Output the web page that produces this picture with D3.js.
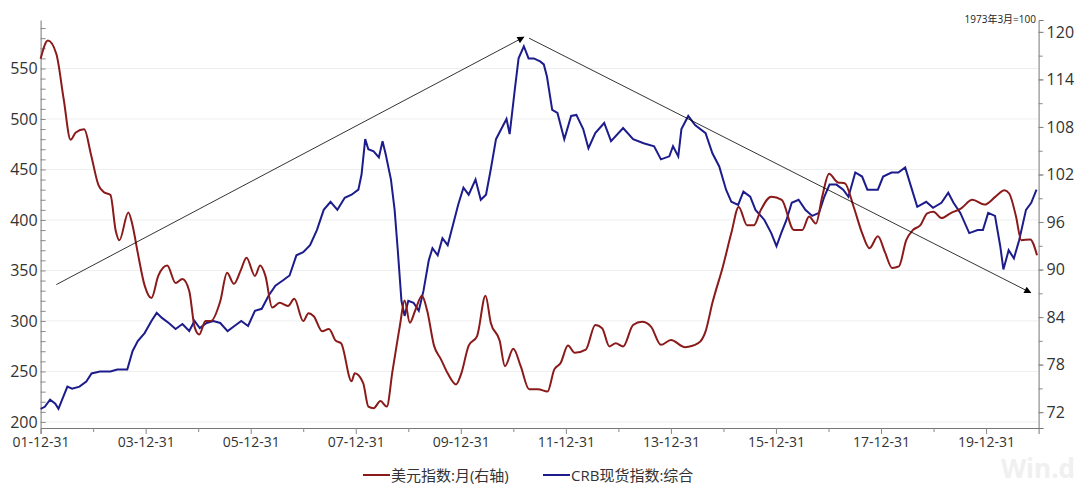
<!DOCTYPE html><html><head><meta charset="utf-8"><script src="https://cdn.jsdelivr.net/npm/d3@7"></script>
<style>body{margin:0;background:#fff}text{font-family:"Open Sans","Noto Sans CJK SC",sans-serif}</style></head><body><svg id="c" width="1080" height="487"></svg><script>
const redDates=[2002.0,2002.14,2002.3,2002.44,2002.57,2002.67,2002.83,2002.96,2003.1,2003.2,2003.33,2003.43,2003.5,2003.67,2003.75,2003.85,2003.98,2004.11,2004.24,2004.41,2004.57,2004.70,2004.83,2004.93,2005.02,2005.14,2005.24,2005.42,2005.55,2005.68,2005.81,2005.92,2006.08,2006.18,2006.28,2006.41,2006.55,2006.71,2006.83,2007.0,2007.1,2007.2,2007.36,2007.49,2007.62,2007.72,2007.92,2007.98,2008.14,2008.24,2008.34,2008.47,2008.59,2008.70,2008.84,2008.93,2009.03,2009.13,2009.26,2009.36,2009.49,2009.62,2009.75,2009.91,2010.01,2010.15,2010.31,2010.47,2010.57,2010.74,2010.84,2011.0,2011.14,2011.30,2011.47,2011.65,2011.78,2011.9,2012.04,2012.17,2012.38,2012.56,2012.69,2012.83,2012.95,2013.09,2013.28,2013.45,2013.62,2013.81,2014.0,2014.27,2014.52,2014.66,2014.79,2014.99,2015.15,2015.29,2015.45,2015.58,2015.71,2015.91,2016.11,2016.34,2016.50,2016.63,2016.76,2016.88,2017.01,2017.18,2017.31,2017.48,2017.64,2017.78,2017.94,2018.08,2018.21,2018.34,2018.48,2018.61,2018.75,2018.88,2019.0,2019.15,2019.32,2019.52,2019.74,2019.97,2020.18,2020.35,2020.44,2020.57,2020.67,2020.84,2020.97];
const redValues=[116.6,118.9,117.2,111.5,106.4,107.3,107.7,104.5,100.7,99.8,99.4,94.9,93.7,97.2,95.6,92.1,88.0,86.4,89.2,90.5,88.3,88.8,87.3,82.8,81.8,83.5,83.5,86.0,89.6,88.2,89.9,91.5,89.2,90.5,89.2,85.2,85.8,85.4,86.3,83.5,84.5,84.1,82.2,82.5,81.0,80.7,75.9,76.9,75.7,72.7,72.5,73.4,72.7,77.2,82.9,86.1,83.3,84.8,86.7,84.8,80.4,78.7,76.9,75.5,76.9,80.4,81.6,86.7,83.3,81.0,77.8,80.0,77.8,74.9,74.9,74.6,77.4,78.2,80.4,79.5,79.9,83.0,82.6,80.3,80.7,80.3,83.0,83.4,82.8,80.5,81.1,80.2,80.7,82.2,85.8,90.4,94.6,97.9,95.6,95.6,97.5,99.2,98.8,95.0,95.0,96.7,95.8,99.2,102.1,101.0,100.9,97.9,94.6,92.7,94.2,92.1,90.2,90.4,93.7,95.0,95.6,97.1,97.3,96.5,97.1,97.7,98.8,98.2,99.2,100.0,99.6,96.7,93.7,93.8,91.8];
const blueDates=[2002.00,2002.08,2002.18,2002.28,2002.34,2002.41,2002.51,2002.60,2002.74,2002.87,2002.97,2003.13,2003.33,2003.46,2003.65,2003.75,2003.85,2003.98,2004.11,2004.21,2004.31,2004.44,2004.57,2004.70,2004.83,2004.93,2005.03,2005.16,2005.29,2005.42,2005.56,2005.69,2005.82,2005.95,2006.08,2006.21,2006.34,2006.47,2006.61,2006.74,2006.87,2007.00,2007.13,2007.26,2007.39,2007.52,2007.65,2007.79,2007.92,2008.05,2008.11,2008.18,2008.24,2008.34,2008.44,2008.51,2008.57,2008.67,2008.74,2008.80,2008.87,2008.93,2009.00,2009.10,2009.20,2009.29,2009.39,2009.46,2009.56,2009.65,2009.75,2009.85,2009.95,2010.05,2010.15,2010.28,2010.38,2010.48,2010.57,2010.67,2010.77,2010.87,2010.93,2011.03,2011.10,2011.20,2011.29,2011.39,2011.51,2011.58,2011.64,2011.74,2011.84,2011.97,2012.10,2012.20,2012.33,2012.43,2012.56,2012.73,2012.86,2013.09,2013.28,2013.48,2013.68,2013.81,2013.97,2014.04,2014.14,2014.20,2014.33,2014.46,2014.66,2014.79,2014.92,2015.05,2015.15,2015.28,2015.38,2015.51,2015.61,2015.78,2015.91,2016.01,2016.10,2016.20,2016.30,2016.43,2016.56,2016.69,2016.82,2016.92,2017.02,2017.15,2017.28,2017.38,2017.51,2017.64,2017.74,2017.94,2018.04,2018.20,2018.33,2018.46,2018.56,2018.69,2018.86,2018.99,2019.15,2019.28,2019.38,2019.51,2019.68,2019.84,2019.94,2020.04,2020.17,2020.27,2020.33,2020.43,2020.53,2020.63,2020.76,2020.86,2020.96];
const blueValues=[213,215,222,218,213,222,235,233,235,240,248,250,250,252,252,270,280,288,300,308,303,298,292,297,290,300,293,298,300,298,290,295,300,295,310,312,325,335,340,345,365,368,375,390,410,418,410,422,425,430,445,480,470,468,462,478,465,440,410,370,320,305,320,318,310,330,360,372,365,382,375,395,415,432,425,440,420,425,450,480,490,500,485,530,560,572,560,560,557,554,542,509,506,480,503,504,490,471,486,496,478,491,480,476,473,460,463,473,463,490,503,494,486,466,453,430,418,415,428,423,410,400,387,374,387,400,417,420,410,404,407,423,435,435,430,423,447,443,430,430,443,447,447,452,435,413,418,412,417,427,417,407,387,390,390,407,404,374,351,370,362,380,410,417,430];
const xTickYears=[2002,2004,2006,2008,2010,2012,2014,2016,2018,2020];
const xTickLabels=["01-12-31","03-12-31","05-12-31","07-12-31","09-12-31","11-12-31","13-12-31","15-12-31","17-12-31","19-12-31"];
const leftTicks=[200,250,300,350,400,450,500,550];
const rightTicks=[72,78,84,90,96,102,108,114,120];
const arrow1=[[2002.3,336],[2011.2,581]];
const arrow2=[[2011.3,580],[2020.85,328]];

const svg=d3.select("#c");
const x=d3.scaleLinear().domain([2002,2021]).range([40.6,1038.6]);
const yL=d3.scaleLinear().domain([194,598]).range([428,20]);
const yR=d3.scaleLinear().domain([70,121.5]).range([428,20]);
const defs=svg.append("defs");
defs.append("marker").attr("id","ah").attr("viewBox","0 0 10 10").attr("refX",9).attr("refY",5).attr("markerWidth",9).attr("markerHeight",7).attr("orient","auto").attr("markerUnits","userSpaceOnUse")
 .append("path").attr("d","M0,0L10,5L0,10z").attr("fill","#000");
// watermark
svg.append("text").attr("x",1075).attr("y",478).attr("text-anchor","end").attr("font-size",26).attr("font-weight","bold").attr("fill","#f0f0f0").text("Win.d");
// grid
svg.append("g").selectAll("line").data(leftTicks).join("line").attr("x1",40.6).attr("x2",1038.6).attr("y1",d=>yL(d)).attr("y2",d=>yL(d)).attr("stroke","#eeeeee");
// axes
const gL=svg.append("g").attr("transform","translate(40.6,0)").call(d3.axisLeft(yL).tickValues(leftTicks).tickSize(0).tickPadding(3));
gL.select(".domain").attr("stroke","#777");
gL.selectAll("text").attr("font-size",16).attr("fill","#333");
svg.append("g").attr("transform","translate(40.6,0)").call(d3.axisLeft(yL).tickValues(d3.range(200,600,10)).tickSize(5).tickFormat("")).call(g=>g.select(".domain").remove()).selectAll("line").attr("stroke","#888").attr("transform","translate(5,0)");
const gR=svg.append("g").attr("transform","translate(1038.6,0)").call(d3.axisRight(yR).tickValues(rightTicks).tickSize(5).tickPadding(3));
gR.select(".domain").attr("stroke","#777");gR.selectAll("line").attr("stroke","#888");
gR.selectAll("text").attr("font-size",16).attr("fill","#333");
svg.append("g").attr("transform","translate(1038.6,0)").call(d3.axisRight(yR).tickValues(d3.range(72,121,3)).tickSize(4).tickFormat("")).call(g=>g.select(".domain").remove()).selectAll("line").attr("stroke","#888");
const gX=svg.append("g").attr("transform","translate(0,428)").call(d3.axisBottom(x).tickValues(xTickYears).tickSize(6).tickFormat((d,i)=>xTickLabels[i]));
gX.select(".domain").attr("stroke","#777");gX.selectAll("line").attr("stroke","#888");
gX.selectAll("text").attr("font-size",14).attr("fill","#333");
svg.append("g").attr("transform","translate(0,428)").call(d3.axisBottom(x).tickValues(d3.range(2003,2021,2)).tickSize(4).tickFormat("")).call(g=>g.select(".domain").remove()).selectAll("line").attr("stroke","#888");
// lines
const lineL=d3.line().x(d=>x(d[0])).y(d=>yL(d[1]));
const lineR=d3.line().x(d=>x(d[0])).y(d=>yR(d[1])).curve(d3.curveMonotoneX);
svg.append("path").datum(d3.zip(blueDates,blueValues)).attr("d",lineL).attr("fill","none").attr("stroke","#1c1c8c").attr("stroke-width",2);
svg.append("path").datum(d3.zip(redDates,redValues)).attr("d",lineR).attr("fill","none").attr("stroke","#8b1a1a").attr("stroke-width",2);
[arrow1,arrow2].forEach(a=>svg.append("path").attr("d",lineL(a)).attr("stroke","#000").attr("stroke-width",0.8).attr("fill","none").attr("marker-end","url(#ah)"));
svg.append("text").attr("x",1036).attr("y",23).attr("text-anchor","end").attr("font-size",10).attr("font-family","'DejaVu Serif',serif").attr("fill","#222").text("1973年3月=100");
// legend
const lg=svg.append("g").attr("font-size",15).attr("fill","#333");
lg.append("line").attr("x1",363).attr("x2",390).attr("y1",475).attr("y2",475).attr("stroke","#8b1a1a").attr("stroke-width",2);
lg.append("text").attr("x",391).attr("y",481).text("美元指数:月(右轴)");
lg.append("line").attr("x1",543).attr("x2",570).attr("y1",475).attr("y2",475).attr("stroke","#1c1c8c").attr("stroke-width",2);
lg.append("text").attr("x",571).attr("y",481).text("CRB现货指数:综合");
</script></body></html>
